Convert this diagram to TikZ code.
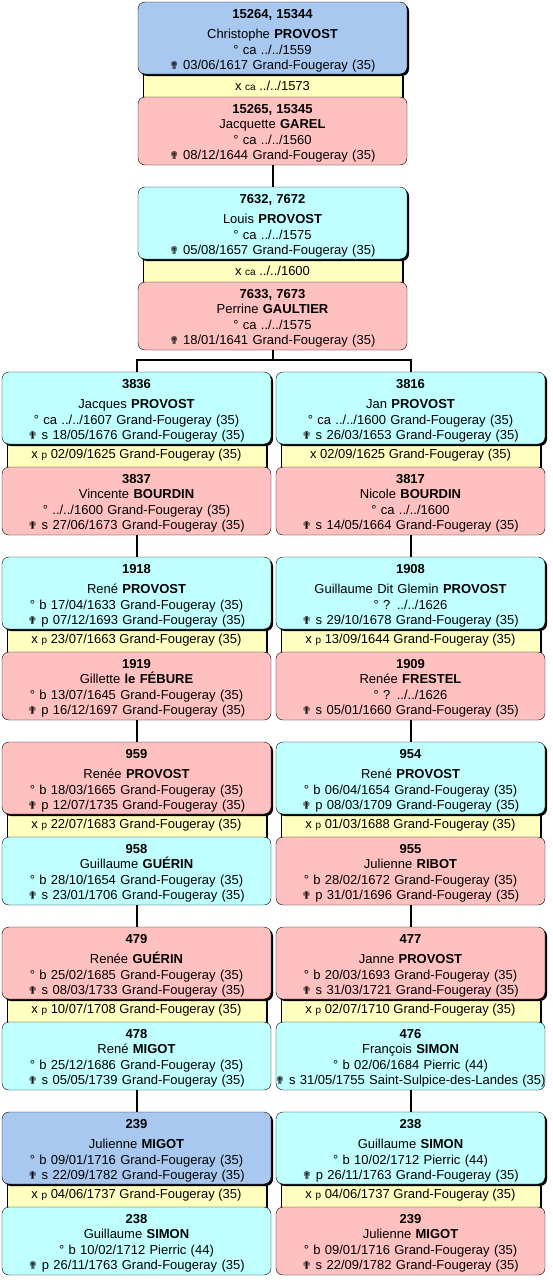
\documentclass[tikz,border=0pt]{standalone}
\usepackage{fontspec}
\setmainfont{Liberation Sans}
\newfontfamily\symfont{DejaVu Sans}
\usetikzlibrary{positioning, shadows}

\definecolor{focusblue}{RGB}{168,200,240}
\definecolor{maleblue}{RGB}{192,255,255}
\definecolor{femalepink}{RGB}{255,192,192}
\definecolor{marryellow}{RGB}{255,255,192}

\newcommand{\dth}{{\symfont\fontsize{11}{11}\selectfont ✟}}
\newcommand{\sml}[1]{{\fontsize{10}{10}\selectfont #1}}

\tikzset{
  person/.style={draw, rounded corners=7pt, text width=269pt, inner sep=0pt, outer sep=0pt,
    align=center, font=\fontsize{13}{15.5}\selectfont},
  upbox/.style={person, minimum height=72pt, execute at begin node={\rule{0pt}{15.5pt}},
    general shadow={fill=black, shadow xshift=2pt, shadow yshift=-2pt}},
  lowbox/.style={person, minimum height=68pt, execute at begin node={\rule{0pt}{13.5pt}}},
  marrbox/.style={draw, fill=marryellow, minimum width=259pt, minimum height=23pt,
    inner sep=0pt, outer sep=0pt, anchor=north, font=\fontsize{13}{15.5}\selectfont,
    general shadow={fill=black, shadow xshift=2pt, shadow yshift=-2pt}},
  focus/.style={fill=focusblue},
  male/.style={fill=maleblue},
  female/.style={fill=femalepink},
  link/.style={line width=2pt}
}

\begin{document}
\begin{tikzpicture}[x=1pt, y=-1pt]
    \useasboundingbox (0,0) rectangle (552,1282);

    % Generation 15264
    \node[marrbox] (m15264) at (272.5,74) {x \sml{ca} ../../1573};
    \node[lowbox, female, below=0pt of m15264] (p15265) {\textbf{15265, 15345}\\ Jacquette \textbf{GAREL}\\ ° ca ../../1560\\ \dth\ 08/12/1644 Grand-Fougeray (35)};
    \node[upbox, focus, above=0pt of m15264] (p15264) {\textbf{15264, 15344}\\[4.5pt] Christophe \textbf{PROVOST}\\ ° ca ../../1559\\ \dth\ 03/06/1617 Grand-Fougeray (35)};

    % Generation 7632
    \node[marrbox] (m7632) at (272.5,259) {x \sml{ca} ../../1600};
    \node[lowbox, female, below=0pt of m7632] (p7633) {\textbf{7633, 7673}\\ Perrine \textbf{GAULTIER}\\ ° ca ../../1575\\ \dth\ 18/01/1641 Grand-Fougeray (35)};
    \node[upbox, male, above=0pt of m7632] (p7632) {\textbf{7632, 7672}\\[4.5pt] Louis \textbf{PROVOST}\\ ° ca ../../1575\\ \dth\ 05/08/1657 Grand-Fougeray (35)};

    % Generation 3836 / 3816
    \node[marrbox] (m3836) at (136.5,444) {x \sml{p} 02/09/1625 Grand-Fougeray (35)};
    \node[lowbox, female, below=0pt of m3836] (p3837) {\textbf{3837}\\ Vincente \textbf{BOURDIN}\\ ° ../../1600 Grand-Fougeray (35)\\ \dth\ s 27/06/1673 Grand-Fougeray (35)};
    \node[upbox, male, above=0pt of m3836] (p3836) {\textbf{3836}\\[4.5pt] Jacques \textbf{PROVOST}\\ ° ca ../../1607 Grand-Fougeray (35)\\ \dth\ s 18/05/1676 Grand-Fougeray (35)};

    \node[marrbox] (m3816) at (410.5,444) {x 02/09/1625 Grand-Fougeray (35)};
    \node[lowbox, female, below=0pt of m3816] (p3817) {\textbf{3817}\\ Nicole \textbf{BOURDIN}\\ ° ca ../../1600\\ \dth\ s 14/05/1664 Grand-Fougeray (35)};
    \node[upbox, male, above=0pt of m3816] (p3816) {\textbf{3816}\\[4.5pt] Jan \textbf{PROVOST}\\ ° ca ../../1600 Grand-Fougeray (35)\\ \dth\ s 26/03/1653 Grand-Fougeray (35)};

    % Generation 1918 / 1908
    \node[marrbox] (m1918) at (136.5,629) {x \sml{p} 23/07/1663 Grand-Fougeray (35)};
    \node[lowbox, female, below=0pt of m1918] (p1919) {\textbf{1919}\\ Gillette \textbf{le FÉBURE}\\ ° b 13/07/1645 Grand-Fougeray (35)\\ \dth\ p 16/12/1697 Grand-Fougeray (35)};
    \node[upbox, male, above=0pt of m1918] (p1918) {\textbf{1918}\\[4.5pt] René \textbf{PROVOST}\\ ° b 17/04/1633 Grand-Fougeray (35)\\ \dth\ p 07/12/1693 Grand-Fougeray (35)};

    \node[marrbox] (m1908) at (410.5,629) {x \sml{p} 13/09/1644 Grand-Fougeray (35)};
    \node[lowbox, female, below=0pt of m1908] (p1909) {\textbf{1909}\\ Renée \textbf{FRESTEL}\\ ° ? ../../1626\\ \dth\ s 05/01/1660 Grand-Fougeray (35)};
    \node[upbox, male, above=0pt of m1908] (p1908) {\textbf{1908}\\[4.5pt] Guillaume Dit Glemin \textbf{PROVOST}\\ ° ? ../../1626\\ \dth\ s 29/10/1678 Grand-Fougeray (35)};

    % Generation 959 / 954
    \node[marrbox] (m959) at (136.5,814) {x \sml{p} 22/07/1683 Grand-Fougeray (35)};
    \node[lowbox, male, below=0pt of m959] (p958) {\textbf{958}\\ Guillaume \textbf{GUÉRIN}\\ ° b 28/10/1654 Grand-Fougeray (35)\\ \dth\ s 23/01/1706 Grand-Fougeray (35)};
    \node[upbox, female, above=0pt of m959] (p959) {\textbf{959}\\[4.5pt] Renée \textbf{PROVOST}\\ ° b 18/03/1665 Grand-Fougeray (35)\\ \dth\ p 12/07/1735 Grand-Fougeray (35)};

    \node[marrbox] (m954) at (410.5,814) {x \sml{p} 01/03/1688 Grand-Fougeray (35)};
    \node[lowbox, female, below=0pt of m954] (p955) {\textbf{955}\\ Julienne \textbf{RIBOT}\\ ° b 28/02/1672 Grand-Fougeray (35)\\ \dth\ p 31/01/1696 Grand-Fougeray (35)};
    \node[upbox, male, above=0pt of m954] (p954) {\textbf{954}\\[4.5pt] René \textbf{PROVOST}\\ ° b 06/04/1654 Grand-Fougeray (35)\\ \dth\ p 08/03/1709 Grand-Fougeray (35)};

    % Generation 479 / 477
    \node[marrbox] (m479) at (136.5,999) {x \sml{p} 10/07/1708 Grand-Fougeray (35)};
    \node[lowbox, male, below=0pt of m479] (p478) {\textbf{478}\\ René \textbf{MIGOT}\\ ° b 25/12/1686 Grand-Fougeray (35)\\ \dth\ s 05/05/1739 Grand-Fougeray (35)};
    \node[upbox, female, above=0pt of m479] (p479) {\textbf{479}\\[4.5pt] Renée \textbf{GUÉRIN}\\ ° b 25/02/1685 Grand-Fougeray (35)\\ \dth\ s 08/03/1733 Grand-Fougeray (35)};

    \node[marrbox] (m477) at (410.5,999) {x \sml{p} 02/07/1710 Grand-Fougeray (35)};
    \node[lowbox, male, below=0pt of m477] (p476) {\textbf{476}\\ François \textbf{SIMON}\\ ° b 02/06/1684 Pierric (44)\\ \makebox[\linewidth]{\dth\ s 31/05/1755 Saint-Sulpice-des-Landes (35)}};
    \node[upbox, female, above=0pt of m477] (p477) {\textbf{477}\\[4.5pt] Janne \textbf{PROVOST}\\ ° b 20/03/1693 Grand-Fougeray (35)\\ \dth\ s 31/03/1721 Grand-Fougeray (35)};

    % Generation 239 / 238
    \node[marrbox] (m239) at (136.5,1184) {x \sml{p} 04/06/1737 Grand-Fougeray (35)};
    \node[lowbox, male, below=0pt of m239] (q238) {\textbf{238}\\ Guillaume \textbf{SIMON}\\ ° b 10/02/1712 Pierric (44)\\ \dth\ p 26/11/1763 Grand-Fougeray (35)};
    \node[upbox, focus, above=0pt of m239] (p239) {\textbf{239}\\[4.5pt] Julienne \textbf{MIGOT}\\ ° b 09/01/1716 Grand-Fougeray (35)\\ \dth\ s 22/09/1782 Grand-Fougeray (35)};

    \node[marrbox] (m238) at (410.5,1184) {x \sml{p} 04/06/1737 Grand-Fougeray (35)};
    \node[lowbox, female, below=0pt of m238] (q239) {\textbf{239}\\ Julienne \textbf{MIGOT}\\ ° b 09/01/1716 Grand-Fougeray (35)\\ \dth\ s 22/09/1782 Grand-Fougeray (35)};
    \node[upbox, male, above=0pt of m238] (p238) {\textbf{238}\\[4.5pt] Guillaume \textbf{SIMON}\\ ° b 10/02/1712 Pierric (44)\\ \dth\ p 26/11/1763 Grand-Fougeray (35)};

    % Links
    \draw[link] (p15265.south) -- (p7632.north);
    \draw[link] (p7633.south) -- ++(0,10) coordinate (split) -| (p3836.north);
    \draw[link] (split) -| (p3816.north);
    \draw[link] (p3837.south) -- (p1918.north);
    \draw[link] (p3817.south) -- (p1908.north);
    \draw[link] (p1919.south) -- (p959.north);
    \draw[link] (p1909.south) -- (p954.north);
    \draw[link] (p958.south) -- (p479.north);
    \draw[link] (p955.south) -- (p477.north);
    \draw[link] (p478.south) -- (p239.north);
    \draw[link] (p476.south) -- (p238.north);
\end{tikzpicture}
\end{document}
